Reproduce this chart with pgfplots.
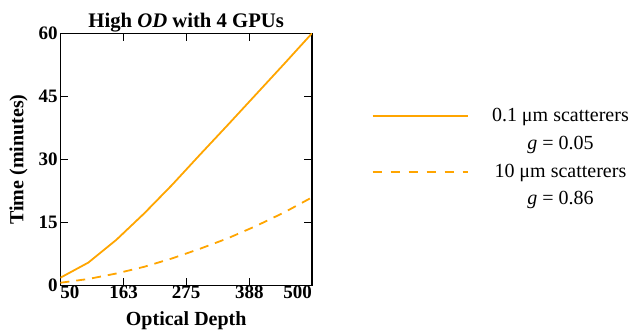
\documentclass[border=0pt]{standalone}
\usepackage{pgfplots}
\pgfplotsset{compat=1.18}
\usepackage{fontspec}
\setmainfont{Liberation Serif}
\definecolor{lineor}{RGB}{255,165,0}
\begin{document}
\begin{tikzpicture}
\begin{axis}[
  name=ax, at={(0,0)}, anchor=south west,
  scale only axis, width=251.6pt, height=252.4pt,
  xmin=50, xmax=500, ymin=0, ymax=60,
  xtick={50,163,275,388,500},
  xticklabels={\makebox[0pt][l]{50},163,275,388,\makebox[0pt][r]{500}},
  ytick={0,15,30,45,60},
  yticklabels={0,15,30,45,60},
  tick align=inside,
  major tick length=8pt,
  every tick/.style={black, line width=1.2pt},
  axis line style={line width=1.5pt},
  tick label style={font=\fontsize{19}{22}\selectfont\bfseries},
  xticklabel style={inner sep=0pt, anchor=north},
  yticklabel style={inner sep=0pt, anchor=east, xshift=-2.5pt},
  every axis title shift=0pt,
  title={High \textit{OD} with 4 GPUs},
  title style={font=\fontsize{20.7}{24}\selectfont\bfseries, at={(axis description cs:0.5,1.022)}, anchor=base, yshift=0pt},
  xlabel={Optical Depth},
  xlabel style={font=\fontsize{20}{24}\selectfont\bfseries, at={(axis description cs:0.5,-0.1557)}, anchor=base},
  ylabel={Time (minutes)},
  ylabel style={font=\fontsize{20}{24}\selectfont\bfseries, at={(axis description cs:-0.1475,0.5)}, anchor=base},
  legend style={draw=none, fill=none, inner sep=0pt, outer sep=0pt,
    at={(axis description cs:1.2373,0.7052)}, anchor=north west,
    font=\fontsize{20}{24}\selectfont, row sep=8.7pt, column sep=22.7pt,
    nodes={inner sep=0pt, text height=14pt, text depth=5pt}},
  legend cell align=center,
  legend image code/.code={\draw[#1] (0pt,0.11em) -- (95.6pt,0.11em);},
]
\addplot[forget plot, lineor, line width=1.8pt] coordinates {
(50,1.9) (100,5.5) (150,10.9) (200,17.2) (250,24.0) (300,31.2) (350,38.3) (400,45.5) (450,52.7) (500,60)
};
\addplot[forget plot, lineor, line width=1.8pt, dash pattern=on 9pt off 7pt] coordinates {
(50,0.7) (100,1.6) (150,2.9) (200,4.5) (250,6.5) (300,8.8) (350,11.3) (400,14.2) (450,17.4) (500,21.0)
};
\addlegendimage{draw=lineor, line width=1.8pt}
\addlegendentry{0.1 μm scatterers}
\addlegendimage{empty legend}
\addlegendentry{\textit{g} = 0.05}
\addlegendimage{draw=lineor, line width=2pt, dash pattern=on 9pt off 9pt, yshift=-0.6pt}
\addlegendentry{10 μm scatterers}
\addlegendimage{empty legend}
\addlegendentry{\textit{g} = 0.86}
\end{axis}
\pgfresetboundingbox
\path[use as bounding box] (-60.4pt,-44.3pt) rectangle (573.6pt,285.7pt);
\end{tikzpicture}
\end{document}
